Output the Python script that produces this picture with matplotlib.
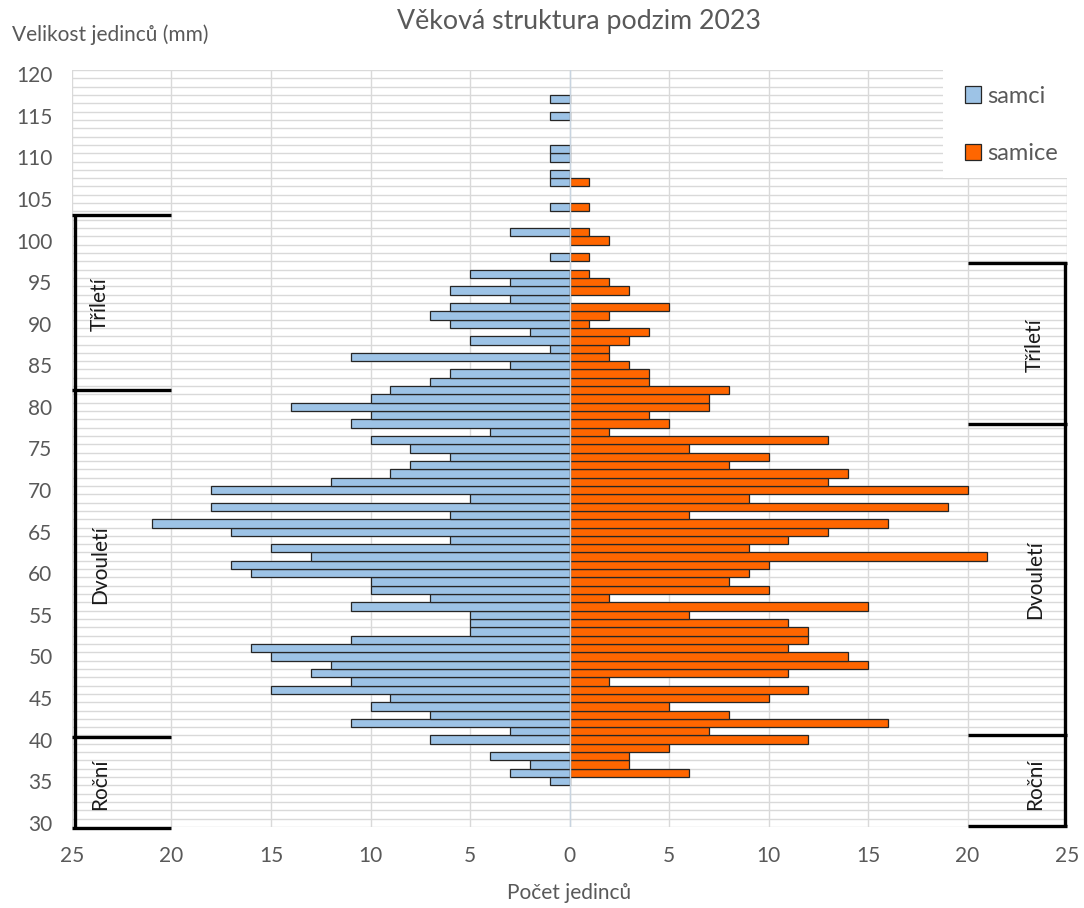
import matplotlib
matplotlib.use("Agg")
import matplotlib.pyplot as plt
import numpy as np
from matplotlib.patches import Patch, Rectangle

# ---------------- data ----------------
sizes = list(range(30, 121))  # body size categories (mm)

samci = [  # males, sizes 30..120
    0, 0, 0, 0, 0, 1, 3, 2, 4, 0,          # 30-39
    7, 3, 11, 7, 10, 9, 15, 11, 13, 12,    # 40-49
    15, 16, 11, 5, 5, 5, 11, 7, 10, 10,    # 50-59
    16, 17, 13, 15, 6, 17, 21, 6, 18, 5,   # 60-69
    18, 12, 9, 8, 6, 8, 10, 4, 11, 10,     # 70-79
    14, 10, 9, 7, 6, 3, 11, 1, 5, 2,       # 80-89
    6, 7, 6, 3, 6, 3, 5, 0, 1, 0,          # 90-99
    0, 3, 0, 0, 1, 0, 0, 1, 1, 0,          # 100-109
    1, 1, 0, 0, 0, 1, 0, 1, 0, 0,          # 110-119
    0,                                     # 120
]

samice = [  # females, sizes 30..120
    0, 0, 0, 0, 0, 0, 6, 3, 3, 5,          # 30-39
    12, 7, 16, 8, 5, 10, 12, 2, 11, 15,    # 40-49
    14, 11, 12, 12, 11, 6, 15, 2, 10, 8,   # 50-59
    9, 10, 21, 9, 11, 13, 16, 6, 19, 9,    # 60-69
    20, 13, 14, 8, 10, 6, 13, 2, 5, 4,     # 70-79
    7, 7, 8, 4, 4, 3, 2, 2, 3, 4,          # 80-89
    1, 2, 5, 0, 3, 2, 1, 0, 1, 0,          # 90-99
    2, 1, 0, 0, 1, 0, 0, 1, 0, 0,          # 100-109
    0, 0, 0, 0, 0, 0, 0, 0, 0, 0,          # 110-119
    0,                                     # 120
]

series_names = ["samci", "samice"]
y_ticks = list(range(30, 121, 5))
x_ticks = [-25, -20, -15, -10, -5, 0, 5, 10, 15, 20, 25]
x_tick_labels = ["25", "20", "15", "10", "5", "0", "5", "10", "15", "20", "25"]

# age-group brackets (size boundaries, mm)
left_groups = ["Tříletí", "Dvouletí", "Roční"]
left_bounds = [103.1, 82.0, 40.35, 29.4]
left_label_y = [92.3, 61.0, 34.6]
right_groups = ["Tříletí", "Dvouletí", "Roční"]
right_bounds = [97.3, 78.0, 40.6, 29.6]
right_label_y = [87.4, 59.2, 34.6]

title = "Věková struktura podzim 2023"
y_title = "Velikost jedinců (mm)"
x_title = "Počet jedinců"

# ---------------- style ----------------
FONT = "Lato"
TXT = "#595959"
GRID = "#D9D9D9"
BLUE = "#9DC3E6"
ORANGE = "#FF6600"
EDGE = "#262626"

plt.rcParams["font.family"] = [FONT, "DejaVu Sans"]

W, H = 1084, 908
fig = plt.figure(figsize=(W / 100, H / 100), dpi=100)
ax = fig.add_axes([72 / W, 1 - 827 / H, (1067 - 72) / W, (827 - 70) / H])

m = np.array(samci)
f = np.array(samice)
ax.barh(sizes, -m, height=1.0, color=BLUE, edgecolor=EDGE,
        linewidth=[0.9 if v else 0 for v in m], zorder=2, label=series_names[0])
ax.barh(sizes, f, height=1.0, color=ORANGE, edgecolor=EDGE,
        linewidth=[0.9 if v else 0 for v in f], zorder=2, label=series_names[1])
ax.axvline(0, color="#C8D4E0", lw=1.0, zorder=3)

ax.set_xlim(-25, 25)
ax.set_ylim(29.5, 120.5)
ax.set_xticks(x_ticks)
ax.set_xticklabels(x_tick_labels)
ax.set_yticks(y_ticks)
ax.set_yticks(np.arange(29.5, 121.0, 1.0), minor=True)
ax.tick_params(which="both", length=0)
ax.tick_params(axis="y", which="major", pad=14, labelsize=15, labelcolor=TXT)
ax.tick_params(axis="x", which="major", pad=14, labelsize=15, labelcolor=TXT)
ax.grid(which="minor", axis="y", color=GRID, lw=1.0, zorder=0)
ax.grid(which="major", axis="x", color=GRID, lw=1.0, zorder=0)
ax.set_axisbelow(True)
for s in ax.spines.values():
    s.set_visible(False)


def bracket(bounds, x_a, x_b, x_vert):
    for b in bounds:
        ax.plot([x_a, x_b], [b, b], color="black", lw=2.4,
                solid_capstyle="butt", clip_on=False, zorder=4)
    ax.plot([x_vert, x_vert], [bounds[0], bounds[-1]], color="black", lw=2.4,
            solid_capstyle="butt", clip_on=False, zorder=4)


bracket(left_bounds, -25, -20.05, -24.85)
bracket(right_bounds, 20.0, 25, 24.9)

for lab, yy in zip(left_groups, left_label_y):
    ax.text(-23.6, yy, lab, rotation=90, ha="center", va="center",
            fontsize=15, color="#1a1a1a", zorder=5)
for lab, yy in zip(right_groups, right_label_y):
    ax.text(23.4, yy, lab, rotation=90, ha="center", va="center",
            fontsize=15, color="#1a1a1a", zorder=5)

# legend area (white box covering grid)
fig.add_artist(Rectangle((943 / W, 1 - 178 / H), 1 - 943 / W, (178 - 60) / H,
                         transform=fig.transFigure, facecolor="white",
                         edgecolor="none", zorder=2))
handles = [Patch(facecolor=BLUE, edgecolor=EDGE, lw=0.9, label=series_names[0]),
           Patch(facecolor=ORANGE, edgecolor=EDGE, lw=0.9, label=series_names[1])]
fig.legend(handles=handles, loc="upper left",
           bbox_to_anchor=(953 / W, 1 - 74 / H), bbox_transform=fig.transFigure,
           frameon=False, fontsize=17, handlelength=0.7, handleheight=0.7,
           handletextpad=0.25, labelspacing=1.55, borderpad=0,
           labelcolor=TXT)

fig.text(579 / W, 1 - 22 / H, title, ha="center", va="center", fontsize=19.3, color=TXT)
fig.text(12 / W, 1 - 35 / H, y_title, ha="left", va="center", fontsize=15, color=TXT)
fig.text(569 / W, 1 - 893 / H, x_title, ha="center", va="center", fontsize=15, color=TXT)

fig.savefig("out.png", dpi=100, facecolor="white")
